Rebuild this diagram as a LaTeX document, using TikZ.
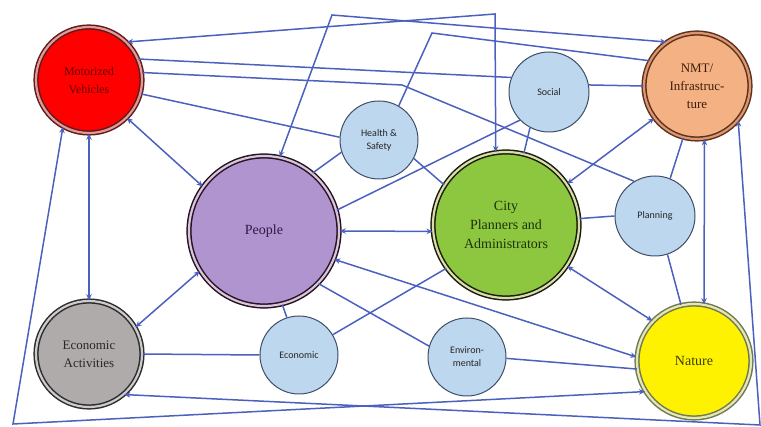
\documentclass[tikz,border=0pt]{standalone}
\usepackage{fontspec}
\setmainfont{Liberation Serif}
\newfontfamily\smallfam{Carlito}
\usetikzlibrary{arrows.meta}

\definecolor{linkc}{RGB}{76,96,190}
\definecolor{smallfill}{RGB}{189,215,238}
\definecolor{smalldraw}{RGB}{62,78,105}

\begin{document}
\begin{tikzpicture}[x=1pt,y=-1pt,
  big/.style={circle, inner sep=0pt, minimum size=#1, line width=1.5pt,
    double distance=2.2pt, align=center, font=\fontsize{13}{18}\selectfont},
  small/.style={circle, inner sep=0pt, minimum size=78pt, fill=smallfill,
    draw=smalldraw, line width=1pt, align=center, text=black!85,
    font=\smallfam\fontsize{10}{13}\selectfont},
  link/.style={draw=linkc, line width=1.5pt},
  both/.style={link, {Stealth[length=6pt,width=5.5pt]}-{Stealth[length=6pt,width=5.5pt]}},
]
\useasboundingbox (0,0) rectangle (761,427);

% main actors
\node[big=106pt, fill=red, draw={rgb,255:red,90;green,28;blue,28},
  double={rgb,255:red,232;green,150;blue,150}, text={rgb,255:red,100;green,0;blue,0},
  font=\fontsize{12}{18}\selectfont] (mv) at (89,80) {Motorized\\Vehicles};
\node[big=150pt, fill={rgb,255:red,176;green,148;blue,208}, draw={rgb,255:red,35;green,20;blue,40},
  double={rgb,255:red,218;green,196;blue,214}, text={rgb,255:red,45;green,25;blue,65},
  font=\fontsize{14}{18}\selectfont] (people) at (264,231) {People};
\node[big=146pt, fill={rgb,255:red,141;green,198;blue,63}, draw={rgb,255:red,20;green,32;blue,10},
  double={rgb,255:red,222;green,218;blue,172}, text={rgb,255:red,30;green,50;blue,10},
  font=\fontsize{14}{19}\selectfont] (cp) at (506,225) {City\\Planners and\\Administrators};
\node[big=106pt, fill={rgb,255:red,244;green,177;blue,131}, draw={rgb,255:red,90;green,50;blue,30},
  double={rgb,255:red,222;green,150;blue,110}, text={rgb,255:red,60;green,30;blue,10}]
  (nmt) at (697,86) {NMT/\\Infrastruc-\\ture};
\node[big=114pt, fill=yellow, draw={rgb,255:red,110;green,120;blue,90},
  double={rgb,255:red,232;green,232;blue,172}, text={rgb,255:red,60;green,60;blue,0},
  font=\fontsize{14}{18}\selectfont] (nature) at (694,361) {Nature};
\node[big=106pt, fill={rgb,255:red,175;green,171;blue,171}, draw={rgb,255:red,45;green,45;blue,45},
  double={rgb,255:red,205;green,203;blue,203}, text={rgb,255:red,40;green,40;blue,40}]
  (ea) at (89,354) {Economic\\Activities};

% impact themes
\node[small] (hs) at (379,140) {Health \&\\Safety};
\node[small, minimum size=80pt] (social) at (549,92) {Social};
\node[small, minimum size=80pt] (plan) at (655,216) {Planning};
\node[small] (econ) at (299,355) {Economic};
\node[small] (env) at (467,357) {Environ-\\mental};

% bend points of routed links
\coordinate (c1) at (495,14);
\coordinate (c2) at (332,15);
\coordinate (c3) at (432,33);
\coordinate (c4) at (402,85);
\coordinate (c5) at (13,424);
\coordinate (c6) at (760,425);

% routed links
\draw[both] (mv.45) -- (c1) -- (cp.98);
\draw[both] (people.78) -- (c2) -- (nmt.125);
\draw[link] (hs.60) -- (c3) -- (nmt.152);
\draw[link] (mv.8) -- (c4) -- (plan.121);
\draw[both] (mv.241) -- (c5) -- (nature.212);
\draw[both] (ea.-49) -- (c6) -- (nmt.-40);

% direct links
\draw[link] (mv.23) -- (social.159);
\draw[link] (mv.-15) -- (hs.176);
\draw[both] (mv.-45) -- (people.144);
\draw[both] (mv.south) -- (ea.north);
\draw[both] (ea.30) -- (people.212);
\draw[link] (ea.east) -- (econ.west);
\draw[link] (econ.108) -- (people.-76);
\draw[link] (econ.31) -- (cp.216);
\draw[both] (people.east) -- (cp.185);
\draw[both] (people.-22) -- (nature.176);
\draw[link] (people.-44) -- (env.164);
\draw[link] (env.-2) -- (nature.188);
\draw[link] (people.50) -- (hs.198);
\draw[link] (people.16) -- (social.224);
\draw[link] (hs.-28) -- (cp.147);
\draw[link] (social.242) -- (cp.76);
\draw[link] (social.10) -- (nmt.180);
\draw[both] (cp.34) -- (nmt.217);
\draw[link] (cp.5) -- (plan.180);
\draw[both] (cp.-34) -- (nature.136);
\draw[link] (plan.68) -- (nmt.255);
\draw[link] (plan.-72) -- (nature.103);
\draw[both] (nmt.-82) -- (nature.80);
\end{tikzpicture}
\end{document}
